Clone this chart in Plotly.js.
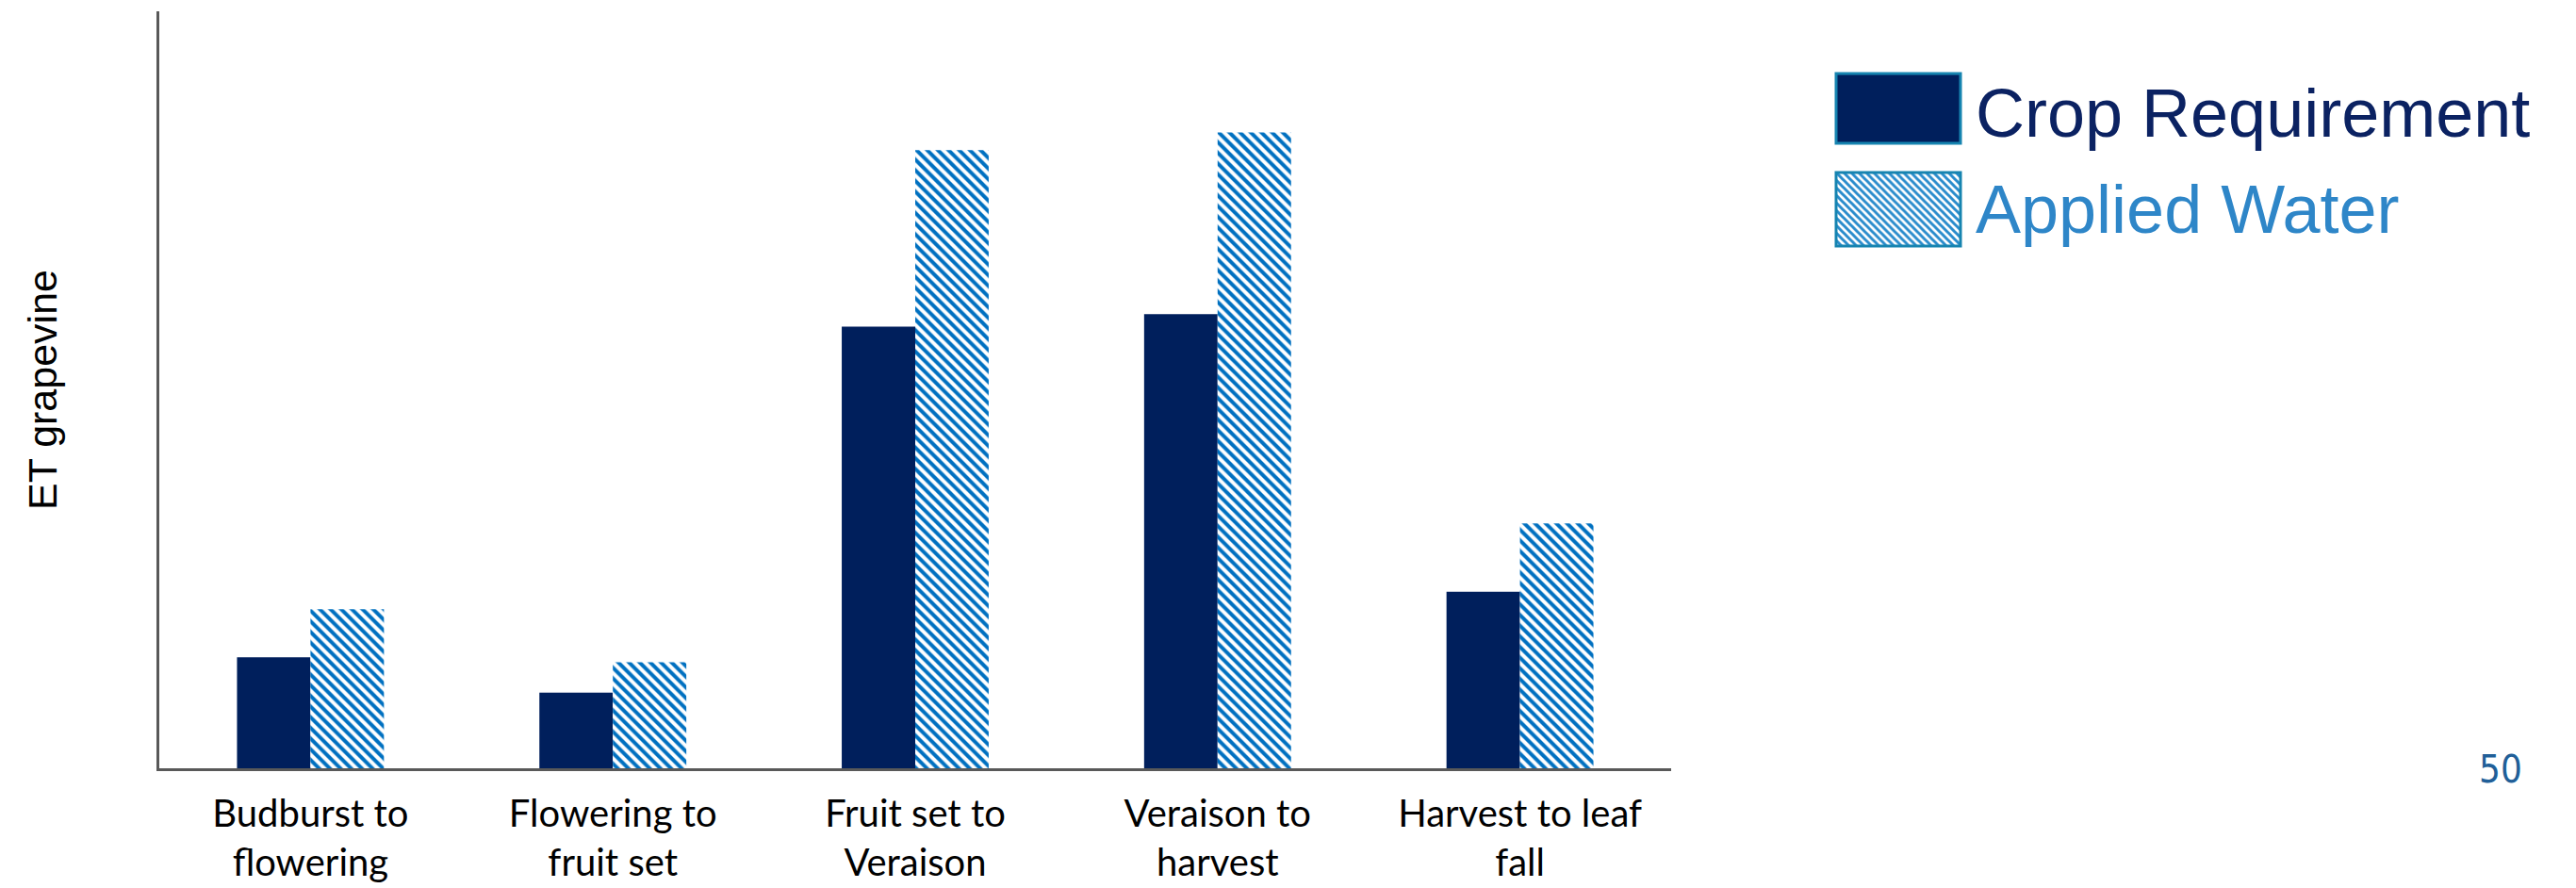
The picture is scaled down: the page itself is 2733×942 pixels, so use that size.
<!DOCTYPE html>
<html>
<head>
<meta charset="utf-8">
<script src="https://cdn.plot.ly/plotly-3.0.1.min.js"></script>
<style>
  html, body { margin: 0; padding: 0; background: #ffffff; }
  #chart { width: 2733px; height: 942px; }
</style>
</head>
<body>
<div id="chart"></div>
<script>
// ---- data (arbitrary ET units, axis has no tick labels) ----
const stages = [
  "Budburst to<br>flowering",
  "Flowering to<br>fruit set",
  "Fruit set to<br>Veraison",
  "Veraison to<br>harvest",
  "Harvest to leaf<br>fall"
];
const cropRequirement = [44, 30, 175, 180, 70];
const appliedWater = [63, 42, 245, 252, 97];
const seriesNames = ["Crop Requirement", "Applied Water"];
const yTitle = "ET grapevine";
const pageNumber = "50";

const navy = "#001f5c";
const blue = "#0070c0";
const swatchBorder = "#1684b0";

// layout helpers: plot area spans x 169..1773 and y 12..815 (pixels)
const PL = 169, PW = 1604, PB = 815, PH = 803;
const px = v => (v - PL) / PW;
const py = v => (PB - v) / PH;

const traces = [
  {
    type: "bar",
    name: seriesNames[0],
    x: stages,
    y: cropRequirement,
    marker: { color: navy, line: { width: 0 } },
    showlegend: false,
    hoverinfo: "x+y+name"
  },
  {
    type: "bar",
    name: seriesNames[1],
    x: stages,
    y: appliedWater,
    marker: {
      color: "#ffffff",
      line: { width: 0 },
      pattern: { shape: "\\", fgcolor: blue, fgopacity: 1, bgcolor: "#ffffff", size: 8, solidity: 0.5, fillmode: "replace" }
    },
    showlegend: false,
    hoverinfo: "x+y+name"
  }
];

// patterned swatch for the legend (svg tile)
const stripeSvg = encodeURIComponent(
  '<svg xmlns="http://www.w3.org/2000/svg" width="133" height="78">' +
  '<defs><pattern id="p" width="8" height="8" patternUnits="userSpaceOnUse">' +
  '<rect width="8" height="8" fill="#ffffff"/>' +
  '<path d="M-2,-2 L10,10 M-2,6 L2,10 M6,-2 L10,2" stroke="#2a8ccc" stroke-width="3"/>' +
  '</pattern></defs><rect width="133" height="78" fill="url(#p)"/></svg>');

const layout = {
  width: 2733,
  height: 942,
  paper_bgcolor: "#ffffff",
  plot_bgcolor: "#ffffff",
  margin: { l: 169, r: 960, t: 12, b: 127, pad: 0 },
  barmode: "group",
  bargap: 0.514,
  bargroupgap: 0,
  showlegend: false,
  xaxis: {
    type: "category",
    showline: true,
    linecolor: "#595959",
    linewidth: 3,
    showgrid: false,
    zeroline: false,
    ticks: "",
    ticklabelstandoff: 11,
    tickfont: { family: "Lato, 'Noto Sans', sans-serif", size: 40, color: "#000000" },
    fixedrange: true
  },
  yaxis: {
    range: [0, 300],
    showline: true,
    linecolor: "#595959",
    linewidth: 3,
    showgrid: false,
    zeroline: false,
    ticks: "",
    showticklabels: false,
    title: {
      text: yTitle,
      standoff: 92,
      font: { family: "'Liberation Sans', Arial, sans-serif", size: 43, color: "#000000" }
    },
    automargin: false,
    fixedrange: true
  },
  shapes: [
    { type: "rect", xref: "paper", yref: "paper", layer: "above",
      x0: px(1948), x1: px(2080), y0: py(152), y1: py(78),
      fillcolor: navy, line: { color: swatchBorder, width: 3 } },
    { type: "rect", xref: "paper", yref: "paper", layer: "above",
      x0: px(1948), x1: px(2080), y0: py(261), y1: py(183),
      fillcolor: "rgba(0,0,0,0)", line: { color: swatchBorder, width: 3 } }
  ],
  images: [
    { source: "data:image/svg+xml;charset=utf-8," + stripeSvg,
      xref: "paper", yref: "paper", xanchor: "left", yanchor: "top",
      x: px(1948), y: py(183),
      sizex: 132 / PW, sizey: 78 / PH, sizing: "stretch", layer: "below" }
  ],
  annotations: [
    { text: seriesNames[0], xref: "paper", yref: "paper", x: px(2094), y: py(120),
      xanchor: "left", yanchor: "middle", showarrow: false,
      font: { family: "'Liberation Sans', Arial, sans-serif", size: 72, color: "#0b2262" } },
    { text: seriesNames[1], xref: "paper", yref: "paper", x: px(2094), y: py(222),
      xanchor: "left", yanchor: "middle", showarrow: false,
      font: { family: "'Liberation Sans', Arial, sans-serif", size: 72, color: "#2e86c8" } },
    { text: pageNumber, xref: "paper", yref: "paper", x: px(2653), y: py(816),
      xanchor: "center", yanchor: "middle", showarrow: false,
      font: { family: "'Liberation Sans Narrow', 'DejaVu Sans Condensed', sans-serif", size: 40, color: "#215f98" } }
  ]
};

Plotly.newPlot("chart", traces, layout, { displayModeBar: false, staticPlot: true });
</script>
</body>
</html>
